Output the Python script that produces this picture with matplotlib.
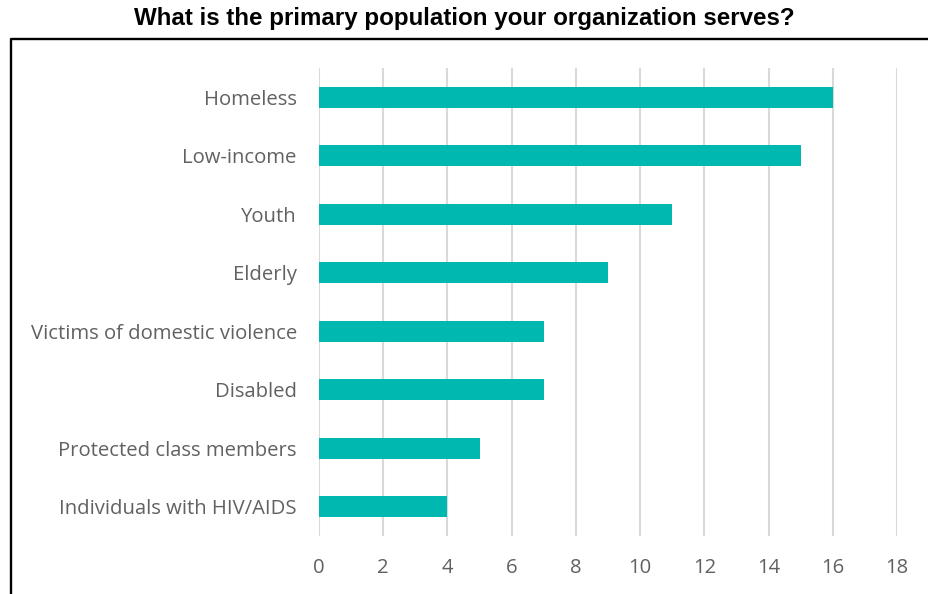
import matplotlib
matplotlib.use("Agg")
import matplotlib.pyplot as plt
from matplotlib.lines import Line2D

categories = ["Homeless", "Low-income", "Youth", "Elderly",
              "Victims of domestic violence", "Disabled",
              "Protected class members", "Individuals with HIV/AIDS"]
values = [16, 15, 11, 9, 7, 7, 5, 4]
xticks = [0, 2, 4, 6, 8, 10, 12, 14, 16, 18]

W, H = 929, 594
fig = plt.figure(figsize=(W / 100, H / 100), dpi=100)
ax = fig.add_axes([319 / W, 1 - 536 / H, (897 - 319) / W, (536 - 68) / H])

ypos = list(range(len(categories)))
ax.barh(ypos, values, height=0.36, color="#00B8B0", zorder=3)
ax.set_ylim(len(categories) - 0.5, -0.5)
ax.set_xlim(0, 18)
ax.set_xticks(xticks)
ax.set_xticklabels([str(t) for t in xticks])
ax.set_yticks(ypos)
ax.set_yticklabels(categories)
for s in ax.spines.values():
    s.set_visible(False)
ax.grid(axis="x", color="#D9D9D9", linewidth=1.5, zorder=0)
ax.tick_params(axis="both", length=0, labelsize=14.6, labelcolor="#616161")
ax.tick_params(axis="x", pad=16)
ax.tick_params(axis="y", pad=16)
for lab in ax.get_xticklabels() + ax.get_yticklabels():
    lab.set_fontfamily("Open Sans")

fig.text(0.5, 1 - 19 / H, "What is the primary population your organization serves?",
         ha="center", va="center", fontsize=17.4, fontweight="bold",
         family="Liberation Sans", color="black")

fig.add_artist(Line2D([11 / W, 11 / W, 1.0], [0.0, 1 - 39 / H, 1 - 39 / H],
                      transform=fig.transFigure, color="black", linewidth=1.7))

fig.savefig("out.png", dpi=100)
